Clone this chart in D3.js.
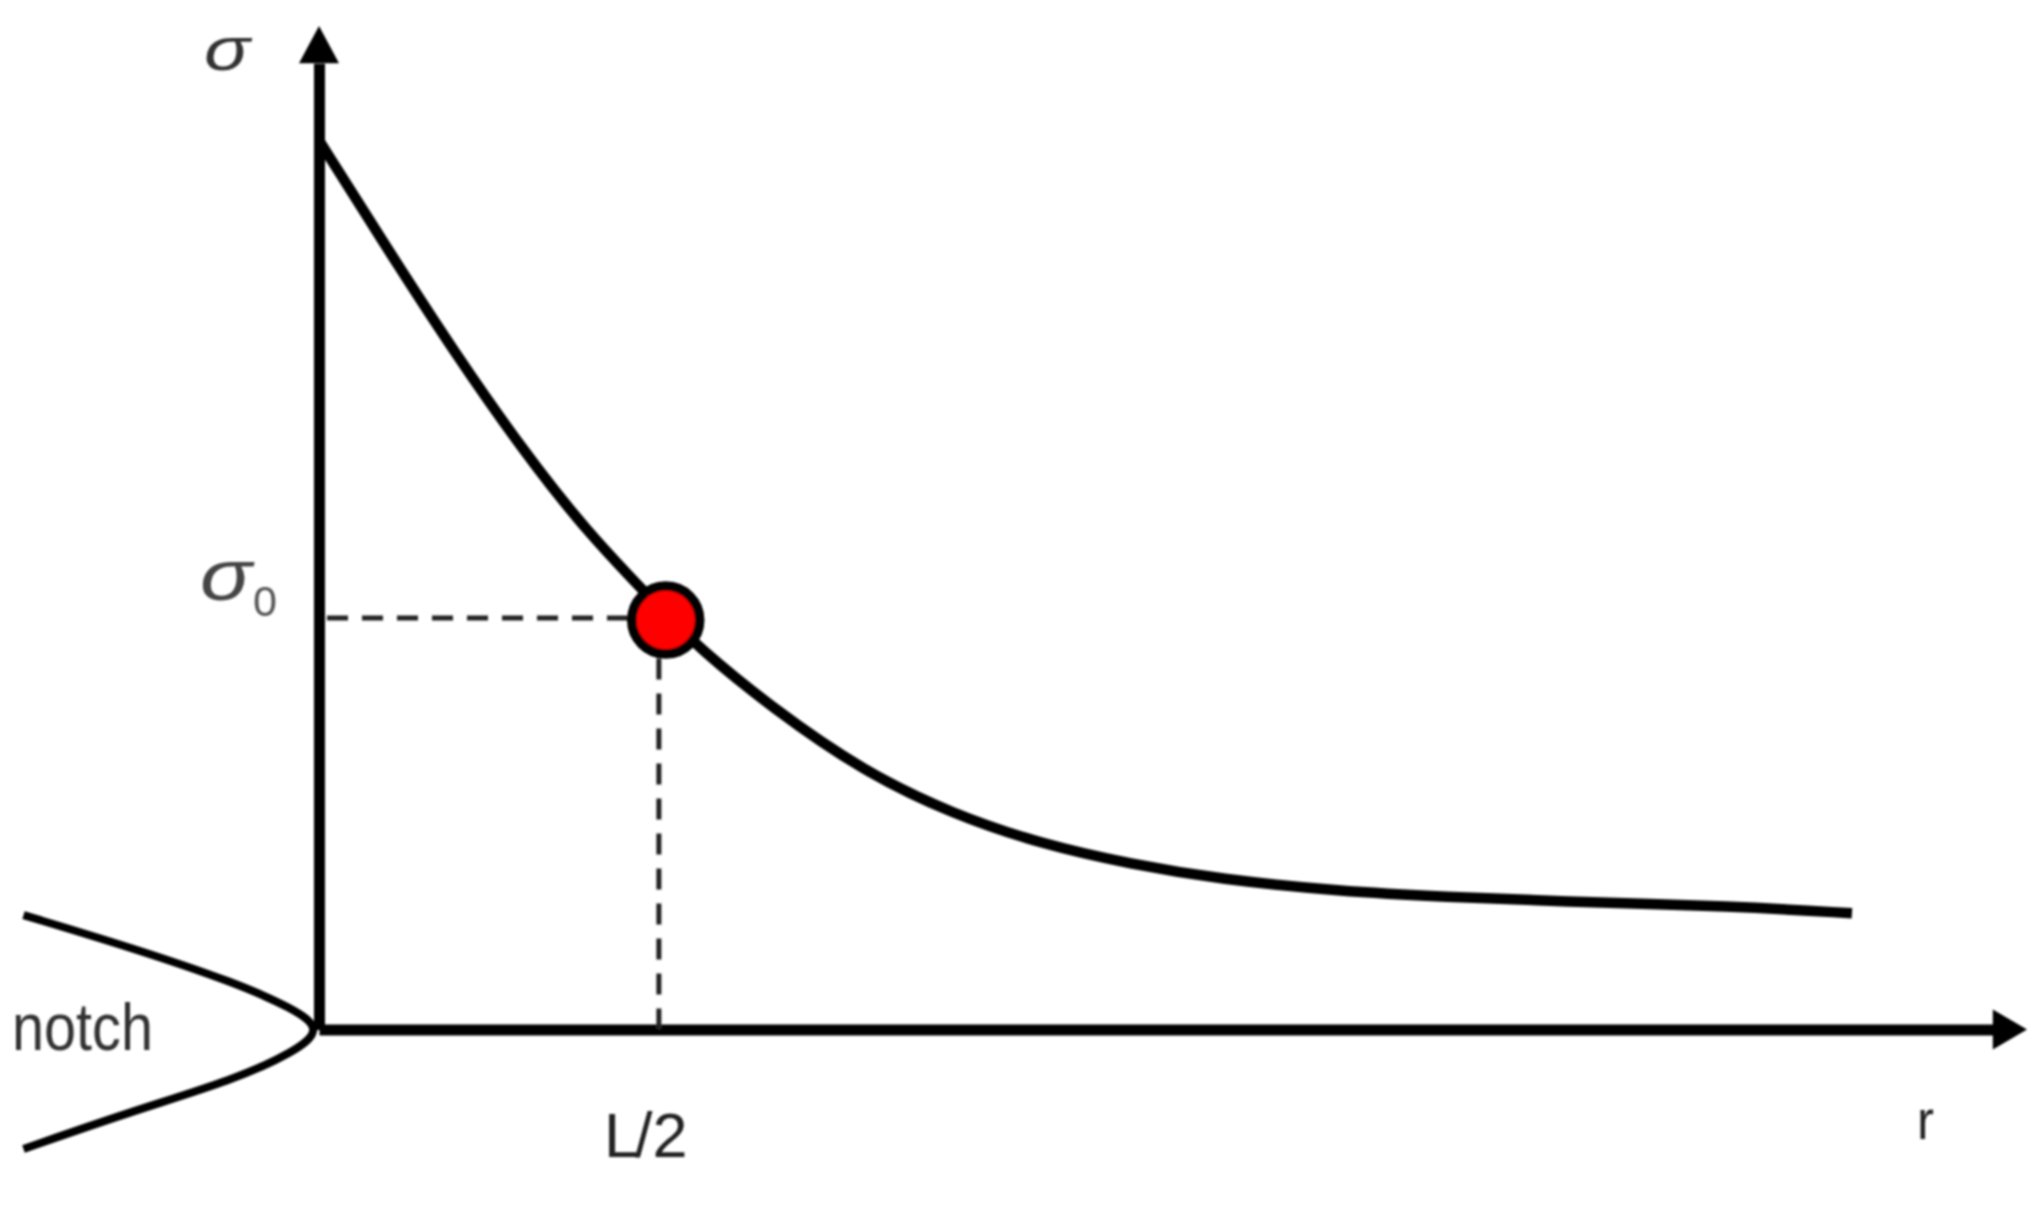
<!DOCTYPE html>
<html><head><meta charset="utf-8">
<script src="https://cdn.jsdelivr.net/npm/d3@7"></script>
<style>html,body{margin:0;padding:0;background:#fff}svg{display:block}</style>
</head><body><div id="chart"></div>
<script>
// Values (arbitrary units: both axes run 0-100 from origin to arrow tip)
const curveR     = [0, 4.19, 8.0, 11.8, 15.6, 20.3, 22.19, 26.64, 31.85, 37.09, 42.33, 47.54, 52.75, 59.78, 66.0, 72.48, 82.96, 89.75];
const curveSigma = [88.6, 77.3, 67.3, 58.05, 49.7, 41.4, 38.1, 31.9, 25.75, 21.46, 18.46, 16.47, 14.97, 13.77, 13.2, 12.77, 12.28, 11.58];
const notchR     = [-17.3, -11.05, -4.95, -1.52, 0.25, -1.52, -4.95, -11.05, -17.3];
const notchSigma = [11.4, 8.2, 4.7, 2.1, 0, -2.3, -5.0, -8.2, -11.9];
const criticalR = 20.3, criticalSigma = 40.8, dashR = 19.9, dashSigma = 41.0;
const rMax = 100, sigmaMax = 100, rArrowBase = 98, sigmaArrowBase = 96.3;
const labels = {y: "σ", y0: "σ", sub: "0", notch: "notch", tick: "L/2", x: "r"};

const W = 2041, H = 1206;
const x = d3.scaleLinear().domain([0, rMax]).range([319, 2027]);
const y = d3.scaleLinear().domain([0, sigmaMax]).range([1029.5, 26]);

const svg = d3.select("#chart").append("svg").attr("width", W).attr("height", H).attr("viewBox", `0 0 ${W} ${H}`);
const defs = svg.append("defs");
defs.append("filter").attr("id", "soft").append("feGaussianBlur").attr("stdDeviation", 0.9);
const g = svg.append("g").attr("filter", "url(#soft)");

// axes stop at the arrow bases
const xShaft = d3.scaleLinear().domain([0, rArrowBase]).range([x(0), x(rArrowBase)]);
const yShaft = d3.scaleLinear().domain([0, sigmaArrowBase]).range([y(0), y(sigmaArrowBase)]);
const xAxis = g.append("g").attr("transform", `translate(0,${y(0)})`).call(d3.axisBottom(xShaft).tickValues([]).tickSizeOuter(0));
const yAxis = g.append("g").attr("transform", `translate(${x(0)},0)`).call(d3.axisLeft(yShaft).tickValues([]).tickSizeOuter(0));
xAxis.select(".domain").attr("stroke", "#000").attr("stroke-width", 11);
yAxis.select(".domain").attr("stroke", "#000").attr("stroke-width", 11);

// arrow heads
g.append("path").attr("fill", "#000").attr("d",
  `M${x(rMax)},${y(0)} L${x(rArrowBase)},${y(0)-20} L${x(rArrowBase)},${y(0)+20} Z`);
g.append("path").attr("fill", "#000").attr("d",
  `M${x(0)},${y(sigmaMax)} L${x(0)-20},${y(sigmaArrowBase)} L${x(0)+20},${y(sigmaArrowBase)} Z`);

// dashed guides
const dash = {stroke:"#222", "stroke-width":5, "stroke-dasharray":"21 14", fill:"none"};
const hline = g.append("line").attr("x1", x(0)+8).attr("x2", x(criticalR)-30).attr("y1", y(dashSigma)).attr("y2", y(dashSigma));
const vline = g.append("line").attr("x1", x(dashR)).attr("x2", x(dashR)).attr("y1", y(0)).attr("y2", y(criticalSigma)+30);
[hline, vline].forEach(l => Object.entries(dash).forEach(([k,v]) => l.attr(k,v)));

// stress curve
const line = d3.line().x(d => x(d[0])).y(d => y(d[1])).curve(d3.curveBasis);
g.append("path").datum(d3.zip(curveR, curveSigma)).attr("d", line)
  .attr("fill", "none").attr("stroke", "#000").attr("stroke-width", 10.5);

// notch outline
g.append("path").datum(d3.zip(notchR, notchSigma)).attr("d", line)
  .attr("fill", "none").attr("stroke", "#000").attr("stroke-width", 8);

// critical point
g.append("circle").attr("cx", x(criticalR)).attr("cy", y(criticalSigma)).attr("r", 34)
  .attr("fill", "#ff0000").attr("stroke", "#000").attr("stroke-width", 9.5);

// text
const text = (s, px, py, size, fam, style, fill, len) => {
  const t = g.append("text").attr("x", px).attr("y", py).attr("font-size", size)
    .attr("font-family", fam).attr("font-style", style).attr("fill", fill).text(s);
  if (len) t.attr("textLength", len).attr("lengthAdjust", "spacingAndGlyphs");
  return t;
};
const sans = "'Liberation Sans', Arial, sans-serif";
text(labels.y, 204, 70, 62, sans, "italic", "#333", 46);
text(labels.y0, 200, 600, 72, sans, "italic", "#444", 52);
text(labels.sub, 253, 616, 42, sans, "normal", "#555", 24);
text(labels.notch, 12, 1050, 66, sans, "normal", "#333", 141);
text(labels.tick, 604, 1157, 63, sans, "normal", "#222").attr("dx", "0 -4 0");
text(labels.x, 1917, 1139, 56, sans, "normal", "#222", 17);
</script></body></html>
